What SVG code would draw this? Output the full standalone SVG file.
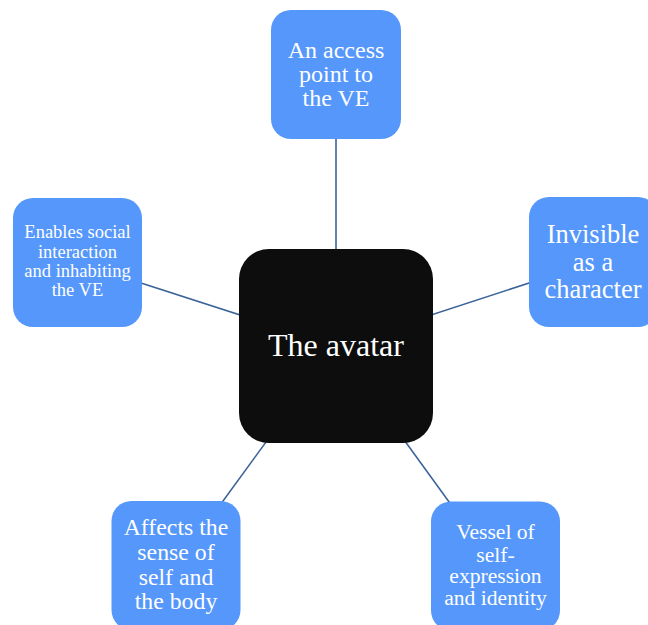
<svg xmlns="http://www.w3.org/2000/svg" width="648" height="625" viewBox="0 0 648 625">
<style>
.leaf{fill:#5597fb;}
.t{font-family:"Liberation Serif","Times New Roman",serif;fill:#ffffff;text-anchor:middle;}
.edge{stroke:#3a6399;stroke-width:1.6;fill:none;}
</style>
<rect width="648" height="625" fill="#ffffff"/>
<g id="connectors">
<line class="edge" x1="336" y1="346" x2="336" y2="74.5"/>
<line class="edge" x1="336" y1="346" x2="77.5" y2="262.5"/>
<line class="edge" x1="336" y1="346" x2="593.5" y2="262"/>
<line class="edge" x1="336" y1="346" x2="176" y2="565.5"/>
<line class="edge" x1="336" y1="346" x2="495.5" y2="566"/>
</g>
<g id="center">
<rect x="239" y="249" width="194" height="194" rx="30" fill="#0d0d0d"/>
<text class="t" x="336" y="356" font-size="32">The avatar</text>
</g>
<g id="node-top">
<rect class="leaf" x="271" y="10" width="130" height="129" rx="20"/>
<text class="t" font-size="24"><tspan x="336" y="58">An access</tspan><tspan x="336" y="82">point to</tspan><tspan x="336" y="106">the VE</tspan></text>
</g>
<g id="node-left">
<rect class="leaf" x="13" y="198" width="129" height="129" rx="20"/>
<text class="t" font-size="18.5"><tspan x="77.5" y="238">Enables social</tspan><tspan x="77.5" y="257.5">interaction</tspan><tspan x="77.5" y="276.5">and inhabiting</tspan><tspan x="77.5" y="296">the VE</tspan></text>
</g>
<g id="node-right">
<rect class="leaf" x="529" y="197" width="129" height="130" rx="20"/>
<text class="t" font-size="26.5"><tspan x="593" y="243">Invisible</tspan><tspan x="593" y="271">as a</tspan><tspan x="593" y="298">character</tspan></text>
</g>
<g id="node-bottom-left">
<rect class="leaf" x="111.5" y="501" width="129" height="129" rx="20"/>
<text class="t" font-size="23.8"><tspan x="176" y="535">Affects the</tspan><tspan x="176" y="560">sense of</tspan><tspan x="176" y="585">self and</tspan><tspan x="176" y="609">the body</tspan></text>
</g>
<g id="node-bottom-right">
<rect class="leaf" x="431" y="501.5" width="129" height="129" rx="20"/>
<text class="t" font-size="21.6"><tspan x="495.5" y="539">Vessel of</tspan><tspan x="495.5" y="561.5">self-</tspan><tspan x="495.5" y="583">expression</tspan><tspan x="495.5" y="605">and identity</tspan></text>
</g>
</svg>
